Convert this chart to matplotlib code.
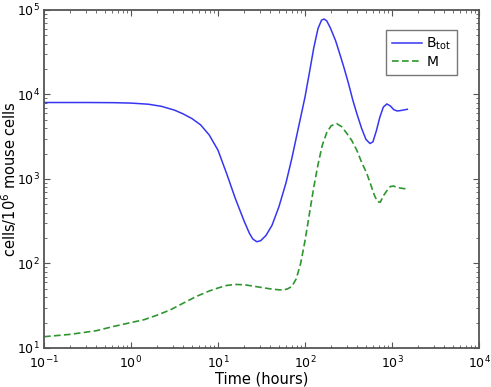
import matplotlib
matplotlib.use("Agg")
from matplotlib import pyplot as plt

# values (hours, cells per 10^6 mouse cells)
t_btot = [0.1, 0.316, 0.631, 1.0, 1.585, 2.24, 3.16, 3.98, 5.01, 6.31, 7.94, 10,
          12.6, 15.8, 20.0, 22.9, 25.1, 27.9, 30.9, 35.5, 41.7, 50.1, 60.3, 70.8,
          79.4, 89.1, 100, 112, 126, 141, 155, 166, 178, 195, 224, 251, 282, 316,
          355, 398, 447, 501, 558, 603, 661, 724, 794, 871, 955, 1047, 1148, 1259, 1500]
btot = [8035, 8035, 8000, 7910, 7670, 7240, 6530, 5890, 5190, 4370, 3310, 2190,
        1150, 589, 316, 229, 195, 181, 186, 214, 282, 468, 891, 1780,
        3090, 5370, 9330, 17800, 35500, 60300, 75900, 78200, 74100, 61700, 43700, 30200, 20400, 13500,
        8510, 5750, 3980, 2950, 2630, 2750, 3720, 5370, 7080, 7730, 7330, 6610, 6380, 6460, 6680]

t_m = [0.1, 0.2, 0.398, 0.631, 1.0, 1.41, 2.0, 2.82, 3.98, 5.62, 7.94, 10,
       12.6, 15.8, 20.0, 25.1, 31.6, 39.8, 50.1, 56.2, 63.1, 70.8, 79.4, 89.1,
       100, 112, 126, 141, 158, 178, 200, 231, 263, 302, 347, 393, 447, 512,
       575, 631, 684, 733, 794, 871, 955, 1035, 1148, 1291, 1500]
m = [13.6, 14.5, 16.0, 18.0, 20.0, 21.6, 24.5, 28.2, 33.9, 40.7, 47.3, 51.3,
     55.0, 56.5, 56.0, 54.1, 52.0, 50.1, 48.8, 48.5, 50.1, 53.7, 66.1, 100,
     186, 380, 794, 1480, 2510, 3550, 4270, 4520, 4170, 3470, 2820, 2200, 1580, 1170,
     832, 631, 537, 531, 631, 724, 813, 826, 794, 776, 762]

fig = plt.figure(figsize=(4.91, 3.87), dpi=100)
ax = fig.add_axes([0.0896, 0.1008, 0.886, 0.8734])

ax.plot(t_btot, btot, color="#3636f2", lw=1.1, label=r"$\mathregular{B_{tot}}$")
ax.plot(t_m, m, color="#2f962f", lw=1.2, linestyle=(0, (4, 2)), label="M")

ax.set_xscale("log")
ax.set_yscale("log")
ax.set_xlim(0.1, 1e4)
ax.set_ylim(10, 1e5)

ax.tick_params(which="both", direction="in", top=True, right=True, colors="#555555",
               labelcolor="black", labelsize=9)
ax.tick_params(which="major", length=4, width=0.8, pad=3)
ax.tick_params(axis="x", which="major", pad=5)
ax.tick_params(which="minor", length=2, width=0.6)
for s in ax.spines.values():
    s.set_color("#555555")
    s.set_linewidth(1.3)

ax.set_xlabel("Time (hours)", fontsize=10.5, labelpad=0)
ax.set_ylabel(r"cells/10$^6$ mouse cells", fontsize=10.5)
ax.yaxis.set_label_coords(-0.058, 0.5)

leg = ax.legend(loc="upper right", bbox_to_anchor=(0.965, 0.96), fontsize=10,
                fancybox=False, handlelength=2.2, borderpad=0.4, labelspacing=0.2,
                handletextpad=0.3)
leg.get_frame().set_edgecolor("#555555")
leg.get_frame().set_linewidth(1.0)

fig.savefig("out.png", dpi=100)
